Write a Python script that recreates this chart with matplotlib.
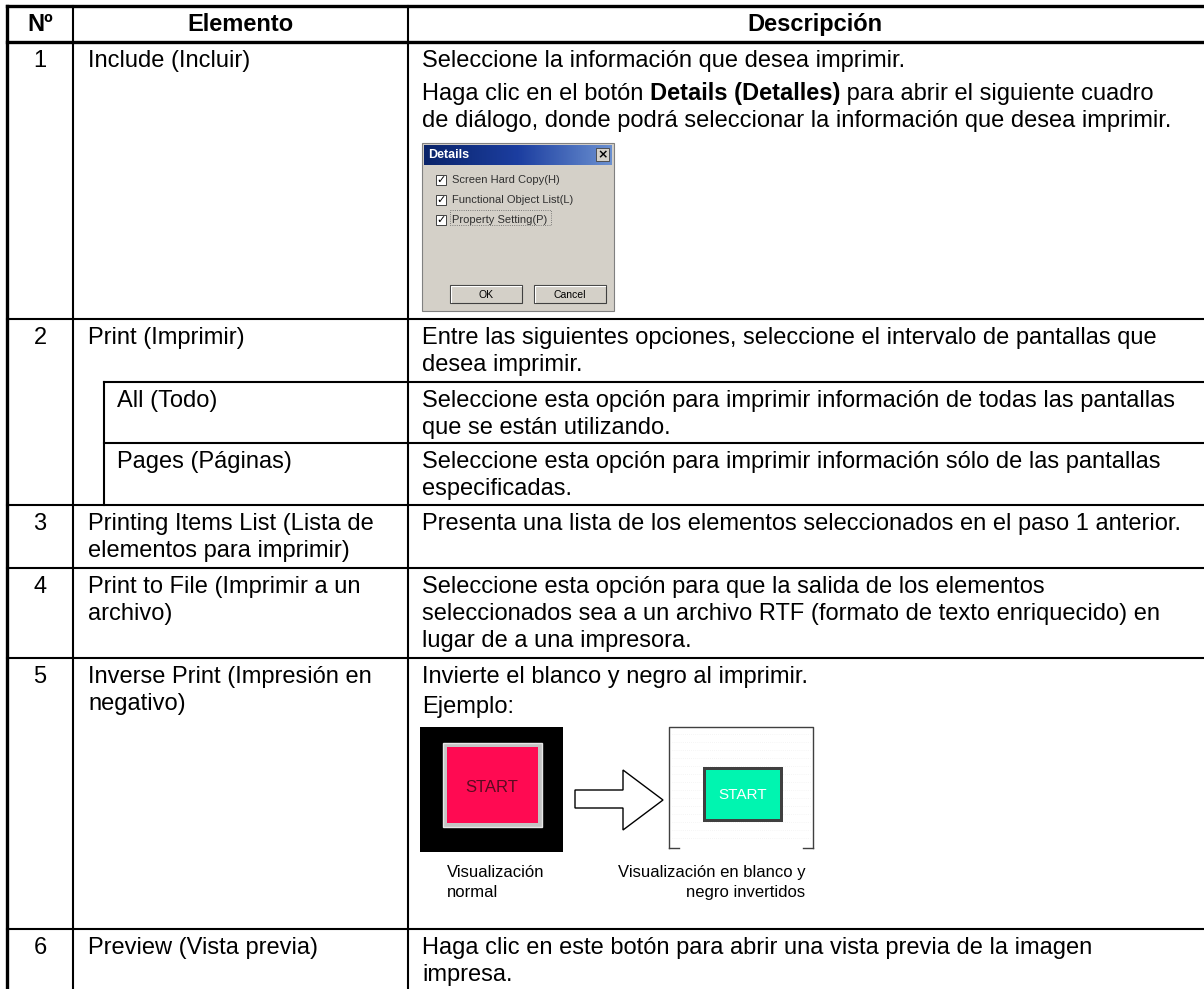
import numpy as np
import matplotlib.pyplot as plt
from matplotlib.patches import Rectangle, Polygon
from matplotlib.colors import LinearSegmentedColormap

plt.rcParams['font.family'] = ['Liberation Sans', 'DejaVu Sans']

W, H = 1204, 989
FS = 17
FS_SMALL = 12

headers = ['Nº', 'Elemento', 'Descripción']
row_numbers = ['1', '2', '3', '4', '5', '6']
elements = [
    ['Include (Incluir)'],
    ['Print (Imprimir)'],
    ['Printing Items List (Lista de', 'elementos para imprimir)'],
    ['Print to File (Imprimir a un', 'archivo)'],
    ['Inverse Print (Impresión en', 'negativo)'],
    ['Preview (Vista previa)'],
]
descriptions = [
    ['Seleccione la información que desea imprimir.'],
    ['Entre las siguientes opciones, seleccione el intervalo de pantallas que', 'desea imprimir.'],
    ['Presenta una lista de los elementos seleccionados en el paso 1 anterior.'],
    ['Seleccione esta opción para que la salida de los elementos',
     'seleccionados sea a un archivo RTF (formato de texto enriquecido) en',
     'lugar de a una impresora.'],
    ['Invierte el blanco y negro al imprimir.'],
    ['Haga clic en este botón para abrir una vista previa de la imagen', 'impresa.'],
]
sub_elements = ['All (Todo)', 'Pages (Páginas)']
sub_descriptions = [
    ['Seleccione esta opción para imprimir información de todas las pantallas', 'que se están utilizando.'],
    ['Seleccione esta opción para imprimir información sólo de las pantallas', 'especificadas.'],
]
details_parts = [('Haga clic en el botón ', 'normal'), ('Details (Detalles)', 'bold'),
                 (' para abrir el siguiente cuadro', 'normal')]
details_line2 = 'de diálogo, donde podrá seleccionar la información que desea imprimir.'
dialog_title = 'Details'
dialog_options = ['Screen Hard Copy(H)', 'Functional Object List(L)', 'Property Setting(P)']
dialog_buttons = ['OK', 'Cancel']
example_label = 'Ejemplo:'
button_text = 'START'
caption_normal = ['Visualización', 'normal']
caption_inverse = ['Visualización en blanco y', 'negro invertidos']

# layout (pixels, y grows downwards)
X_LEFT, X_C1, X_SUB, X_C2 = 7, 73, 104, 408
Y_TOP, Y_HEAD = 6, 42
row_tops = [42, 319, 505, 568, 658, 929]
sub_tops = [382, 443]
BASE = 25
LINE = 27
THICK = 2.4
THIN = 1.5

fig = plt.figure(figsize=(W / 100, H / 100), dpi=100)
ax = fig.add_axes([0, 0, 1, 1])
ax.set_xlim(0, W)
ax.set_ylim(H, 0)
ax.axis('off')
renderer = fig.canvas.get_renderer()


def hline(y, x0, x1, lw):
    ax.plot([x0, x1], [y, y], color='black', lw=lw, solid_capstyle='projecting')


def vline(x, y0, y1, lw):
    ax.plot([x, x], [y0, y1], color='black', lw=lw, solid_capstyle='projecting')


def put(x, y, s, **kw):
    kw.setdefault('fontsize', FS)
    kw.setdefault('va', 'baseline')
    return ax.text(x, y, s, **kw)


# grid
hline(Y_TOP, X_LEFT, W + 5, THICK)
hline(Y_HEAD, X_LEFT, W + 5, THICK)
vline(X_LEFT, Y_TOP, H + 5, THICK)
vline(X_C1, Y_TOP, H + 5, THIN)
vline(X_C2, Y_TOP, H + 5, THIN)
for y in row_tops[1:]:
    hline(y, X_LEFT, W + 5, THIN)
for y in sub_tops:
    hline(y, X_SUB, W + 5, THIN)
vline(X_SUB, sub_tops[0], row_tops[2], THIN)

# header
put((X_LEFT + X_C1) / 2, 31, headers[0], ha='center', fontweight='bold')
put((X_C1 + X_C2) / 2, 31, headers[1], ha='center', fontweight='bold')
put(815, 31, headers[2], ha='center', fontweight='bold')

# rows
for i, top in enumerate(row_tops):
    y = top + BASE
    put((X_LEFT + X_C1) / 2, y, row_numbers[i], ha='center')
    for j, s in enumerate(elements[i]):
        put(88, y + j * LINE, s)
    for j, s in enumerate(descriptions[i]):
        put(422, y + j * LINE, s)

for i, top in enumerate(sub_tops):
    y = top + BASE
    put(117, y, sub_elements[i])
    for j, s in enumerate(sub_descriptions[i]):
        put(422, y + j * LINE, s)

# row 1: mixed bold line
x = 422
y = row_tops[0] + BASE + 33
for s, wt in details_parts:
    t = put(x, y, s, fontweight=wt)
    x += t.get_window_extent(renderer=renderer).width
put(422, y + LINE, details_line2)

# Details dialog
dx, dy, dw, dh = 422, 143, 192, 168
ax.add_patch(Rectangle((dx, dy), dw, dh, fc='#d4d0c8', ec='#808080', lw=0.8))
cmap = LinearSegmentedColormap.from_list('title', ['#0a246a', '#1c3ea0', '#6a8fd0'])
ax.imshow(np.linspace(0, 1, 100).reshape(1, -1), cmap=cmap, aspect='auto',
          extent=(dx + 2, dx + dw - 2, dy + 22, dy + 2), zorder=3)
put(dx + 6, dy + 12, dialog_title, fontsize=9, fontweight='bold', color='white', va='center', zorder=4)
ax.add_patch(Rectangle((dx + dw - 18, dy + 5), 13, 13, fc='#d4d0c8', ec='#404040', lw=0.6, zorder=4))
put(dx + dw - 11.5, dy + 12, '×', fontsize=9, fontweight='bold', ha='center', va='center', zorder=5,
    family='DejaVu Sans')
for i, opt in enumerate(dialog_options):
    cy = dy + 37 + i * 20
    ax.add_patch(Rectangle((dx + 14, cy - 5), 10, 10, fc='white', ec='#404040', lw=0.7, zorder=4))
    put(dx + 19, cy, '✓', fontsize=8, ha='center', va='center', family='DejaVu Sans', zorder=5)
    put(dx + 30, cy, opt, fontsize=8, color='#303030', va='center', zorder=4)
ax.add_patch(Rectangle((dx + 28, dy + 67), 101, 15, fc='none', ec='#606060', lw=0.6, ls=':', zorder=4))
for i, b in enumerate(dialog_buttons):
    bx = dx + 28 + i * 84
    by = dy + dh - 26
    ax.add_patch(Rectangle((bx, by), 72, 18, fc='#d4d0c8', ec='#404040', lw=0.8, zorder=4))
    ax.plot([bx + 1, bx + 1, bx + 71], [by + 17, by + 1, by + 1], color='white', lw=0.8, zorder=5)
    put(bx + 36, by + 9.5, b, fontsize=7.5, ha='center', va='center', zorder=5)

# row 5 example
put(422, row_tops[4] + BASE + 30, example_label)
ax.add_patch(Rectangle((420, 727), 143, 125, fc='black', ec='none'))
ax.add_patch(Rectangle((443, 743), 99, 84, fc='#c4c4c4', ec='#e8e8e8', lw=1))
ax.add_patch(Rectangle((447, 747), 91, 76, fc='#ff0a52', ec='none'))
put(492, 787, button_text, fontsize=12, color='#5a0a20', ha='center', va='center')

arrow = [(575, 790), (623, 790), (623, 770), (663, 800), (623, 830), (623, 808), (575, 808)]
ax.add_patch(Polygon(arrow, closed=True, fc='white', ec='black', lw=1))

box_c = '#404040'
for gy in range(734, 846, 8):
    ax.plot([672, 810], [gy, gy], color='#ececec', lw=0.5, ls=(0, (1, 2)), zorder=0.5)
ax.plot([669, 669, 813, 813], [848, 727, 727, 848], color=box_c, lw=1)
ax.plot([669, 679], [848, 848], color=box_c, lw=1)
ax.plot([803, 813], [848, 848], color=box_c, lw=1)
ax.add_patch(Rectangle((703, 767), 80, 55, fc='#404040', ec='none', zorder=3))
ax.add_patch(Rectangle((706, 770), 74, 49, fc='#00f5b0', ec='none', zorder=3))
put(743, 795, button_text, fontsize=11, color='white', ha='center', va='center', zorder=4)

put(447, 877, caption_normal[0], fontsize=FS_SMALL)
put(447, 897, caption_normal[1], fontsize=FS_SMALL)
t = put(618, 877, caption_inverse[0], fontsize=FS_SMALL)
x_end = 618 + t.get_window_extent(renderer=renderer).width
put(x_end, 897, caption_inverse[1], fontsize=FS_SMALL, ha='right')

ax.set_xlim(0, W)
ax.set_ylim(H, 0)
fig.savefig('out.png', dpi=100)
